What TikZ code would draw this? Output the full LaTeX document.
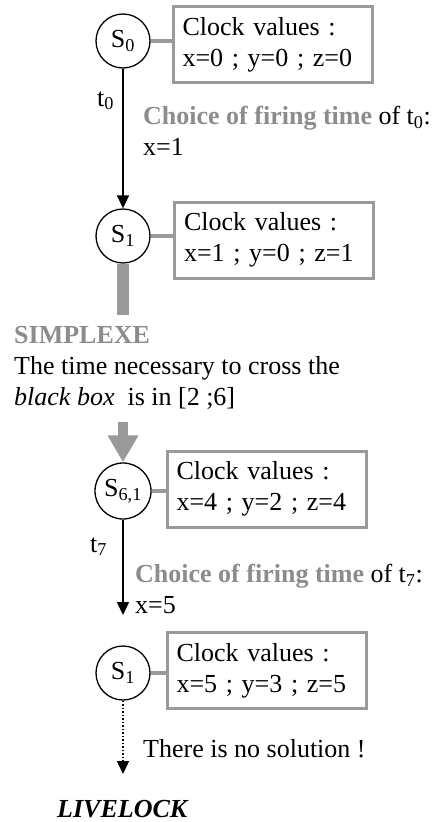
\documentclass[tikz,border=0pt]{standalone}
\usepackage{fontspec}
\setmainfont{Liberation Serif}
\usepackage{xcolor}
\usetikzlibrary{arrows.meta,positioning}
\definecolor{linegray}{HTML}{9A9A9A}
\definecolor{txtgray}{HTML}{8C8C8C}
\tikzset{
  pstate/.style={circle,draw=black,line width=1.3pt,fill=white,minimum size=54pt,inner sep=0pt},
  pclock/.style={draw=linegray,line width=3pt,fill=white,minimum width=199pt,minimum height=76pt,text width=180pt,align=left,inner xsep=9.5pt},
  ptext/.style={inner sep=0pt,align=left},
  parr/.style={-{Triangle[length=13pt,width=12pt]},line width=1.5pt,draw=black},
  plink/.style={line width=3.5pt,draw=linegray},
  pbar/.style={line width=12pt,draw=linegray},
  pfat/.style={-{Triangle[length=27pt,width=29pt]},line width=10pt,draw=linegray,fill=linegray}
}
\newcommand{\firing}{\textcolor{txtgray}{\textbf{Choice of firing time}}}
\begin{document}
\begin{tikzpicture}[x=1pt,y=-1pt,font=\fontsize{26}{31}\selectfont]
  \useasboundingbox (0,0) rectangle (433,822);
  % states and clock values
  \node[pstate] (s0) at (123,41) {S\textsubscript{0}};
  \node[pclock] (c0) at (272.5,44.5) {Clock values :\\x=0 ; y=0 ; z=0};
  \node[pstate] (s1) at (123,236) {S\textsubscript{1}};
  \node[pclock] (c1) at (274,240) {Clock values :\\x=1 ; y=0 ; z=1};
  \node[pstate,minimum size=56pt] (s61) at (123,491) {S\textsubscript{6,1}};
  \node[pclock] (c61) at (266.5,489) {Clock values :\\x=4 ; y=2 ; z=4};
  \node[pstate] (s1b) at (123,673) {S\textsubscript{1}};
  \node[pclock] (c1b) at (266.5,670.5) {Clock values :\\x=5 ; y=3 ; z=5};
  % texts
  \node[ptext,anchor=base west] (lt0) at (97,106) {t\textsubscript{0}};
  \node[ptext,anchor=north west] (ch0) at (143,106) {\firing{} of t\textsubscript{0}:\\x=1};
  \node[ptext,anchor=north west] (simp) at (14,326) {\textcolor{txtgray}{\textbf{SIMPLEXE}}\\
     The time necessary to cross the\\ \textit{black box} \ is in [2 ;6]};
  \node[ptext,anchor=base west] (lt7) at (90,552) {t\textsubscript{7}};
  \node[ptext,anchor=north west] (ch7) at (135,564) {\firing{} of t\textsubscript{7}:\\x=5};
  \node[ptext,anchor=base west] (nosol) at (143,757) {There is no solution !};
  \node[ptext,anchor=base west] (live) at (57,817) {\textbf{\textit{LIVELOCK}}};
  \coordinate (barend) at (123,315);
  \coordinate (fatstart) at (123,422);
  \coordinate (t7end) at (123,615);
  \coordinate (dotend) at (123,774);
  % connectors
  \draw[plink] (s0.east) -- (s0.east -| c0.west);
  \draw[plink] (s1.east) -- (s1.east -| c1.west);
  \draw[plink] (s61.east) -- (s61.east -| c61.west);
  \draw[plink] (s1b.east) -- (s1b.east -| c1b.west);
  \draw[parr] (s0) -- (s1);
  \draw[pbar] (s1) -- (barend);
  \draw[pfat] (fatstart) -- (s61);
  \draw[parr] (s61) -- (t7end);
  \draw[parr,dotted] (s1b) -- (dotend);
\end{tikzpicture}
\end{document}
